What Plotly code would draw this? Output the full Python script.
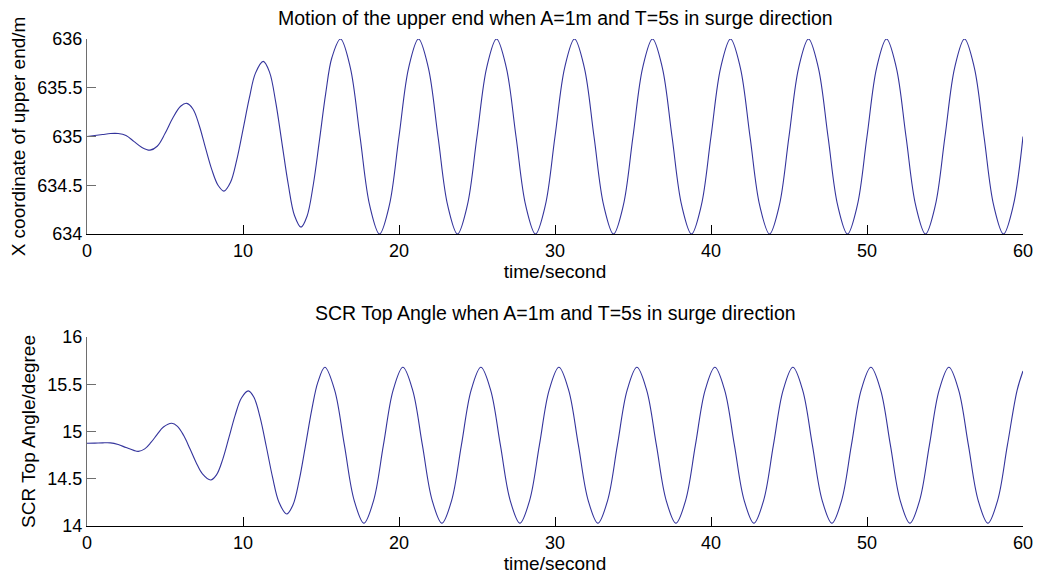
import plotly.graph_objects as go

# ---------------- data ----------------
time_top = [0, 0.5, 1.0, 1.5, 2.0, 2.5, 3.0, 3.5, 4.04, 4.5, 5.0, 5.5, 6.0, 6.39,
            6.8, 7.2, 7.6, 8.0, 8.4, 8.78, 9.2, 9.6, 10.0, 10.4, 10.8, 11.3,
            11.7, 12.1, 12.5, 12.9, 13.3, 13.72, 14.1, 14.5, 14.9, 15.3, 15.7, 16.25,
            16.875, 17.5, 18.125, 18.75, 19.375, 20.0, 20.625, 21.25,
            21.875, 22.5, 23.125, 23.75, 24.375, 25.0, 25.625, 26.25,
            26.875, 27.5, 28.125, 28.75, 29.375, 30.0, 30.625, 31.25,
            31.875, 32.5, 33.125, 33.75, 34.375, 35.0, 35.625, 36.25,
            36.875, 37.5, 38.125, 38.75, 39.375, 40.0, 40.625, 41.25,
            41.875, 42.5, 43.125, 43.75, 44.375, 45.0, 45.625, 46.25,
            46.875, 47.5, 48.125, 48.75, 49.375, 50.0, 50.625, 51.25,
            51.875, 52.5, 53.125, 53.75, 54.375, 55.0, 55.625, 56.25,
            56.875, 57.5, 58.125, 58.75, 59.375, 60.0]
x_upper = [635.00, 635.01, 635.02, 635.03, 635.03, 635.01, 634.95, 634.89, 634.86, 634.90,
           635.03, 635.19, 635.31, 635.34, 635.28, 635.11, 634.88, 634.66, 634.50, 634.44,
           634.53, 634.76, 635.07, 635.39, 635.65, 635.77, 635.66, 635.35, 634.93, 634.51,
           634.19, 634.07, 634.18, 634.50, 634.96, 635.44, 635.81, 636.00,
           635.71, 635.00, 634.29, 634.00, 634.29, 635.00, 635.71, 636.00,
           635.71, 635.00, 634.29, 634.00, 634.29, 635.00, 635.71, 636.00,
           635.71, 635.00, 634.29, 634.00, 634.29, 635.00, 635.71, 636.00,
           635.71, 635.00, 634.29, 634.00, 634.29, 635.00, 635.71, 636.00,
           635.71, 635.00, 634.29, 634.00, 634.29, 635.00, 635.71, 636.00,
           635.71, 635.00, 634.29, 634.00, 634.29, 635.00, 635.71, 636.00,
           635.71, 635.00, 634.29, 634.00, 634.29, 635.00, 635.71, 636.00,
           635.71, 635.00, 634.29, 634.00, 634.29, 635.00, 635.71, 636.00,
           635.71, 635.00, 634.29, 634.00, 634.29, 635.00]

time_bot = [0, 0.5, 1.0, 1.5, 2.0, 2.5, 3.0, 3.29, 3.7, 4.1, 4.5, 4.9, 5.43, 5.8,
            6.2, 6.6, 7.0, 7.4, 7.93, 8.3, 8.7, 9.1, 9.5, 9.9, 10.34, 10.7, 11.1,
            11.5, 11.9, 12.3, 12.8, 13.2, 13.6, 14.0, 14.4, 14.8, 15.25,
            15.875, 16.5, 17.125, 17.75, 18.375, 19.0, 19.625, 20.25,
            20.875, 21.5, 22.125, 22.75, 23.375, 24.0, 24.625, 25.25,
            25.875, 26.5, 27.125, 27.75, 28.375, 29.0, 29.625, 30.25,
            30.875, 31.5, 32.125, 32.75, 33.375, 34.0, 34.625, 35.25,
            35.875, 36.5, 37.125, 37.75, 38.375, 39.0, 39.625, 40.25,
            40.875, 41.5, 42.125, 42.75, 43.375, 44.0, 44.625, 45.25,
            45.875, 46.5, 47.125, 47.75, 48.375, 49.0, 49.625, 50.25,
            50.875, 51.5, 52.125, 52.75, 53.375, 54.0, 54.625, 55.25,
            55.875, 56.5, 57.125, 57.75, 58.375, 59.0, 59.625, 60.0]
top_angle = [14.875, 14.877, 14.880, 14.880, 14.862, 14.830, 14.800, 14.790, 14.816, 14.884,
             14.970, 15.047, 15.087, 15.055, 14.957, 14.817, 14.670, 14.551, 14.487, 14.541,
             14.705, 14.937, 15.174, 15.355, 15.430, 15.362, 15.147, 14.836, 14.512, 14.255,
             14.127, 14.222, 14.482, 14.845, 15.223, 15.522, 15.680,
             15.438, 14.855, 14.272, 14.030, 14.272, 14.855, 15.438, 15.680,
             15.438, 14.855, 14.272, 14.030, 14.272, 14.855, 15.438, 15.680,
             15.438, 14.855, 14.272, 14.030, 14.272, 14.855, 15.438, 15.680,
             15.438, 14.855, 14.272, 14.030, 14.272, 14.855, 15.438, 15.680,
             15.438, 14.855, 14.272, 14.030, 14.272, 14.855, 15.438, 15.680,
             15.438, 14.855, 14.272, 14.030, 14.272, 14.855, 15.438, 15.680,
             15.438, 14.855, 14.272, 14.030, 14.272, 14.855, 15.438, 15.680,
             15.438, 14.855, 14.272, 14.030, 14.272, 14.855, 15.438, 15.680,
             15.438, 14.855, 14.272, 14.030, 14.272, 14.855, 15.438, 15.640]

x_ticks = [0, 10, 20, 30, 40, 50, 60]
top_yticks = [634, 634.5, 635, 635.5, 636]
top_yticktext = ["634", "634.5", "635", "635.5", "636"]
bot_yticks = [14, 14.5, 15, 15.5, 16]
bot_yticktext = ["14", "14.5", "15", "15.5", "16"]

title_top = "Motion of the upper end when A=1m and T=5s in surge direction"
title_bot = "SCR Top Angle when A=1m and T=5s in surge direction"
xlabel = "time/second"
ylabel_top = "X coordinate of upper end/m"
ylabel_bot = "SCR Top Angle/degree"

# ---------------- figure ----------------
FONT = "Liberation Sans, Arial, Helvetica, sans-serif"
LINE = "#34349c"

fig = go.Figure()
fig.add_trace(go.Scatter(x=time_top, y=x_upper, mode="lines",
                         line=dict(color=LINE, width=1.1, shape="spline", smoothing=1),
                         xaxis="x", yaxis="y", showlegend=False, hoverinfo="skip"))
fig.add_trace(go.Scatter(x=time_bot, y=top_angle, mode="lines",
                         line=dict(color=LINE, width=1.1, shape="spline", smoothing=1),
                         xaxis="x2", yaxis="y2", showlegend=False, hoverinfo="skip"))

xcommon = dict(range=[0, 60], tickvals=x_ticks, ticks="inside", ticklen=9,
               tickcolor="#000000", showline=True, linecolor="#000000", linewidth=1,
               showgrid=False, zeroline=False, mirror=False,
               tickfont=dict(family=FONT, size=18, color="#000000"),
               title=dict(text=xlabel, font=dict(family=FONT, size=19, color="#000000"),
                          standoff=2))
ycommon = dict(ticks="inside", ticklen=9, tickcolor="#6e6e6e", showline=True,
               linecolor="#6e6e6e", linewidth=1, showgrid=False, zeroline=False,
               mirror=False, tickfont=dict(family=FONT, size=18, color="#000000"))

fig.update_layout(
    width=1039, height=577,
    margin=dict(l=87, r=16, t=39, b=51, autoexpand=False),
    paper_bgcolor="#ffffff", plot_bgcolor="#ffffff",
    font=dict(family=FONT, size=18, color="#000000"),
    xaxis=dict(**xcommon, domain=[0, 1], anchor="y"),
    yaxis=dict(**ycommon, domain=[0.5996, 1.0], range=[634, 636],
               tickvals=top_yticks, ticktext=top_yticktext, anchor="x",
               title=dict(text=ylabel_top, font=dict(family=FONT, size=19, color="#000000"),
                          standoff=6)),
    xaxis2=dict(**xcommon, domain=[0, 1], anchor="y2"),
    yaxis2=dict(**ycommon, domain=[0.0, 0.3881], range=[14, 16],
                tickvals=bot_yticks, ticktext=bot_yticktext, anchor="x2",
                title=dict(text=ylabel_bot, font=dict(family=FONT, size=19, color="#000000"),
                           standoff=6)),
    annotations=[
        dict(text=title_top, xref="paper", yref="paper", x=0.5, y=1.0431,
             xanchor="center", yanchor="middle", showarrow=False,
             font=dict(family=FONT, size=19.5, color="#000000")),
        dict(text=title_bot, xref="paper", yref="paper", x=0.5, y=0.4374,
             xanchor="center", yanchor="middle", showarrow=False,
             font=dict(family=FONT, size=19.5, color="#000000")),
    ],
)

fig.write_html("out.html")
